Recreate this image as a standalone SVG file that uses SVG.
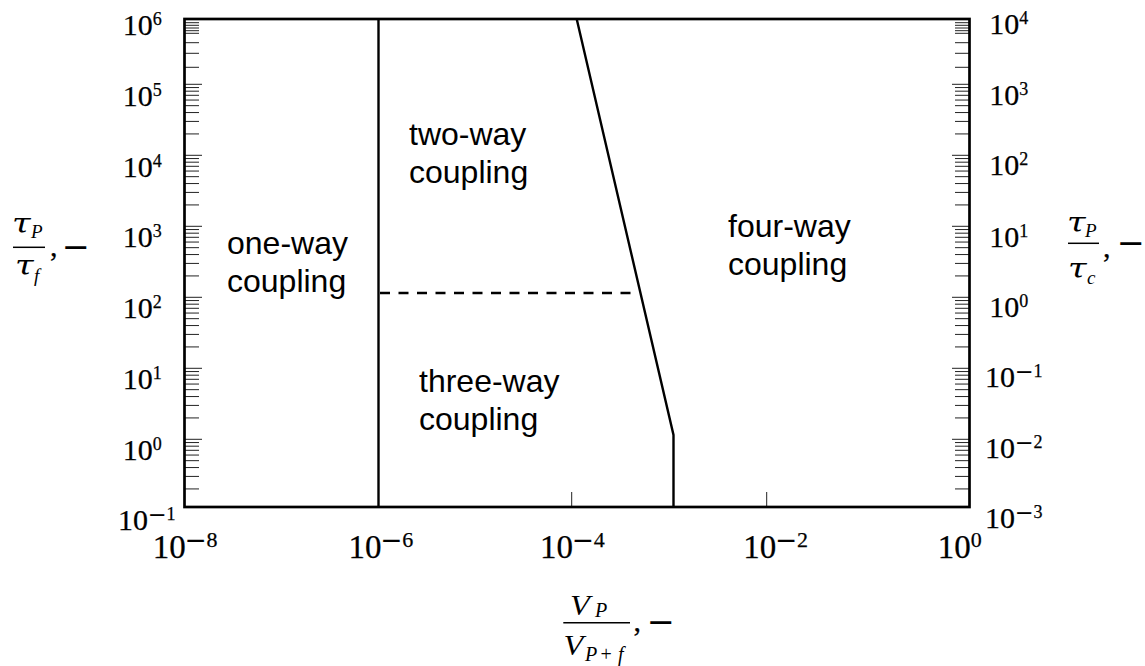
<svg xmlns="http://www.w3.org/2000/svg" width="1145" height="666" viewBox="0 0 1145 666">
<style>
.num{font-family:"Liberation Serif","Times New Roman",serif;font-size:30px;fill:#000;stroke:#000;stroke-width:0.25}
.numb{font-family:"Liberation Serif","Times New Roman",serif;font-size:33px;fill:#000;stroke:#000;stroke-width:0.25}
.sup{font-size:18px}
.supb{font-size:22px}
.mn{font-family:"DejaVu Serif",serif;fill:#000}
.lbl{font-family:"Liberation Sans",Arial,sans-serif;font-size:32px;fill:#000}
.it{font-family:"Liberation Serif","Times New Roman",serif;font-style:italic;fill:#000}
.up{font-family:"Liberation Serif","Times New Roman",serif;fill:#000}
.tau{font-family:"DejaVu Serif",serif;font-style:italic;font-size:27px;fill:#000}
.tick{stroke:#222;stroke-width:1;fill:none}
.bd{stroke:#000;stroke-width:2.4;fill:none}
.bar{stroke:#000;stroke-width:1.5}
</style>
<defs>
<path id="decL" class="tick" d="M0 0h17M0 3.25h14M0 6.88h14M0 11h14M0 15.75h14M0 21.37h14M0 28.25h14M0 37.12h14M0 49.63h14"/>
<path id="decR" class="tick" d="M0 0h-17M0 3.25h-14M0 6.88h-14M0 11h-14M0 15.75h-14M0 21.37h-14M0 28.25h-14M0 37.12h-14M0 49.63h-14"/>
</defs>
<rect width="1145" height="666" fill="#fff"/>

<g id="ticks">
<path class="tick" d="M185 22.7h14M185 25.3h14M185 28h14M185 30.7h14M185 33.3h14M185 42.7h14M185 53.3h14M185 67.3h14"/>
<path class="tick" d="M969 22.7h-14M969 25.3h-14M969 28h-14M969 30.7h-14M969 33.3h-14M969 42.7h-14M969 53.3h-14M969 67.3h-14"/>
<use href="#decL" x="185" y="84.3"/>
<use href="#decL" x="185" y="155.3"/>
<use href="#decL" x="185" y="226.3"/>
<use href="#decL" x="185" y="297.3"/>
<use href="#decL" x="185" y="368.3"/>
<use href="#decL" x="185" y="439.3"/>
<use href="#decR" x="969" y="84.3"/>
<use href="#decR" x="969" y="155.3"/>
<use href="#decR" x="969" y="226.3"/>
<use href="#decR" x="969" y="297.3"/>
<use href="#decR" x="969" y="368.3"/>
<use href="#decR" x="969" y="439.3"/>
<path class="tick" d="M571.7 492V506M766.7 492V506"/>
</g>

<g id="frame">
<rect x="184.5" y="19" width="785" height="488" fill="none" stroke="#000" stroke-width="2.7"/>
</g>

<g id="connectors">
<line class="bd" x1="378.5" y1="19" x2="378.5" y2="507"/>
<polyline class="bd" points="576.7,19 673.5,435 673.5,507"/>
<line class="bd" x1="380" y1="293" x2="632" y2="293" stroke-dasharray="10 8.5"/>
</g>

<g id="one-way">
<text class="lbl" x="227" y="254">one-way</text>
<text class="lbl" x="227" y="292">coupling</text>
</g>
<g id="two-way">
<text class="lbl" x="409" y="145">two-way</text>
<text class="lbl" x="409" y="183">coupling</text>
</g>
<g id="three-way">
<text class="lbl" x="419" y="392">three-way</text>
<text class="lbl" x="419" y="430">coupling</text>
</g>
<g id="four-way">
<text class="lbl" x="728" y="237">four-way</text>
<text class="lbl" x="728" y="275">coupling</text>
</g>

<g id="left-labels">
<text class="num" x="122.7" y="35">10<tspan class="sup" dy="-10">6</tspan></text>
<text class="num" x="122.7" y="106">10<tspan class="sup" dy="-10">5</tspan></text>
<text class="num" x="122.7" y="176.5">10<tspan class="sup" dy="-10">4</tspan></text>
<text class="num" x="122.7" y="247">10<tspan class="sup" dy="-10">3</tspan></text>
<text class="num" x="122.7" y="318">10<tspan class="sup" dy="-10">2</tspan></text>
<text class="num" x="122.7" y="388.5">10<tspan class="sup" dy="-10">1</tspan></text>
<text class="num" x="122.7" y="460">10<tspan class="sup" dy="-10">0</tspan></text>
<text class="num" x="118" y="530">10<tspan class="mn" font-size="22" dy="-8">−</tspan><tspan class="sup" dy="-2">1</tspan></text>
</g>

<g id="right-labels">
<text class="num" x="989.3" y="33.5">10<tspan class="sup" dy="-10">4</tspan></text>
<text class="num" x="989.3" y="105">10<tspan class="sup" dy="-10">3</tspan></text>
<text class="num" x="989.3" y="175">10<tspan class="sup" dy="-10">2</tspan></text>
<text class="num" x="989.3" y="246.5">10<tspan class="sup" dy="-10">1</tspan></text>
<text class="num" x="989.3" y="316.7">10<tspan class="sup" dy="-10">0</tspan></text>
<text class="num" x="985" y="386.7">10<tspan class="mn" font-size="22" dy="-8">−</tspan><tspan class="sup" dy="-2">1</tspan></text>
<text class="num" x="985" y="458.3">10<tspan class="mn" font-size="22" dy="-8">−</tspan><tspan class="sup" dy="-2">2</tspan></text>
<text class="num" x="985" y="528.3">10<tspan class="mn" font-size="22" dy="-8">−</tspan><tspan class="sup" dy="-2">3</tspan></text>
</g>

<g id="bottom-labels">
<text class="numb" x="152.7" y="558.3">10<tspan class="mn" font-size="26" dx="-1" dy="-9.7">−</tspan><tspan class="supb" dy="-2">8</tspan></text>
<text class="numb" x="348.4" y="558.3">10<tspan class="mn" font-size="26" dx="-1" dy="-9.7">−</tspan><tspan class="supb" dy="-2">6</tspan></text>
<text class="numb" x="540" y="558.3">10<tspan class="mn" font-size="26" dx="-1" dy="-9.7">−</tspan><tspan class="supb" dy="-2">4</tspan></text>
<text class="numb" x="743.3" y="558.3">10<tspan class="mn" font-size="26" dx="-1" dy="-9.7">−</tspan><tspan class="supb" dy="-2">2</tspan></text>
<text class="numb" x="937.7" y="558.3">10<tspan class="supb" dy="-11.7">0</tspan></text>
</g>

<g id="left-title">
<text class="tau" transform="translate(12,233) scale(1.25,1)">τ</text>
<text class="it" x="31" y="238" font-size="19">P</text>
<line class="bar" x1="13" y1="247.3" x2="45" y2="247.3"/>
<text class="tau" transform="translate(15,275) scale(1.25,1)">τ</text>
<text class="it" x="34" y="282" font-size="19">f</text>
<text class="num" x="50" y="256">,</text>
<text class="mn" x="61.5" y="258" font-size="33.5">−</text>
</g>

<g id="right-title">
<text class="tau" transform="translate(1067,231.7) scale(1.25,1)">τ</text>
<text class="it" x="1085" y="236.5" font-size="19">P</text>
<line class="bar" x1="1068" y1="243.3" x2="1099" y2="243.3"/>
<text class="tau" transform="translate(1068,278) scale(1.25,1)">τ</text>
<text class="it" x="1087" y="283.5" font-size="19">c</text>
<text class="num" x="1103" y="257">,</text>
<text class="mn" x="1116.5" y="253.6" font-size="33.5">−</text>
</g>

<g id="bottom-title">
<text class="it" font-size="29" transform="translate(570,615) scale(1.12,1)">V</text>
<text class="it" x="595" y="617" font-size="20">P</text>
<line class="bar" x1="563.3" y1="622.7" x2="630" y2="622.7"/>
<text class="it" font-size="29" transform="translate(563.5,655) scale(1.12,1)">V</text>
<text class="it" x="585" y="661" font-size="20">P</text>
<text class="up" x="600.5" y="661" font-size="20">+</text>
<text class="it" x="618" y="661" font-size="20">f</text>
<text class="num" x="633.5" y="631">,</text>
<text class="mn" x="646.5" y="633" font-size="33.5">−</text>
</g>
</svg>
